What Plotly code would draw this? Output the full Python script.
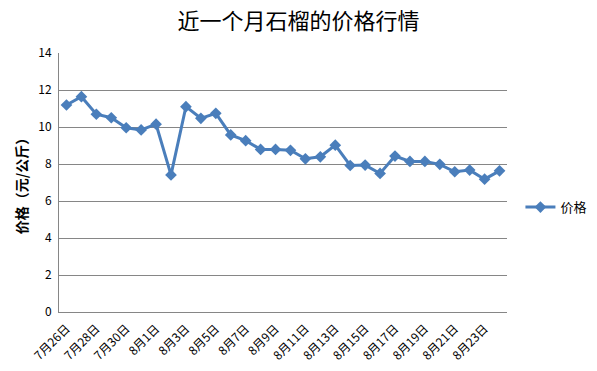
import plotly.graph_objects as go

dates = ["7月26日", "7月27日", "7月28日", "7月29日", "7月30日", "7月31日",
         "8月1日", "8月2日", "8月3日", "8月4日", "8月5日", "8月6日", "8月7日",
         "8月8日", "8月9日", "8月10日", "8月11日", "8月12日", "8月13日",
         "8月14日", "8月15日", "8月16日", "8月17日", "8月18日", "8月19日",
         "8月20日", "8月21日", "8月22日", "8月23日", "8月24日"]
prices = [11.19, 11.64, 10.69, 10.5, 9.96, 9.84, 10.15, 7.41, 11.1, 10.47,
          10.74, 9.57, 9.26, 8.79, 8.79, 8.74, 8.28, 8.39, 9.02, 7.92,
          7.94, 7.49, 8.43, 8.14, 8.14, 7.98, 7.58, 7.67, 7.18, 7.63]
y_ticks = [0, 2, 4, 6, 8, 10, 12, 14]

FONT = "Noto Sans CJK SC, Liberation Sans, sans-serif"
BLUE = "#4A7EBB"
GRID = "#868686"

fig = go.Figure()
fig.add_trace(go.Scatter(
    x=dates, y=prices, mode="lines+markers", name="价格",
    line=dict(color=BLUE, width=3),
    marker=dict(symbol="diamond", size=9, color=BLUE),
))

fig.update_layout(
    width=597, height=371,
    margin=dict(l=59, r=90, t=53, b=59, autoexpand=False),
    paper_bgcolor="white", plot_bgcolor="white",
    font=dict(family=FONT, color="black", size=12),
    title=dict(text="近一个月石榴的价格行情", x=0.5, xref="container",
               y=0.943, yref="container",
               yanchor="middle", xanchor="center",
               font=dict(size=22, family=FONT, color="black")),
    showlegend=True,
    legend=dict(x=1.03, y=0.405, xanchor="left", yanchor="middle",
                font=dict(size=13, family=FONT), bgcolor="rgba(0,0,0,0)"),
    xaxis=dict(
        type="category", tickmode="array", tickvals=dates[::2],
        tickangle=-45, showgrid=False, showline=True, linecolor=GRID,
        linewidth=1, ticks="", tickfont=dict(size=12, family=FONT),
        ticklabelstandoff=4,
        range=[-0.5, len(dates) - 0.5], automargin=False,
    ),
    yaxis=dict(
        range=[0, 14], tickmode="array", tickvals=y_ticks,
        showgrid=True, gridcolor=GRID, gridwidth=1, showline=True,
        linecolor=GRID, linewidth=1, ticks="", zeroline=False,
        tickfont=dict(size=12, family=FONT), automargin=False,
        ticklabelstandoff=4,
        title=dict(text="价格（元/公斤）", standoff=7,
                   font=dict(size=14, family=FONT, weight="bold")),
    ),
)

# remove the browser's default 8px body margin so the figure fills the window
fig.write_html("out.html",
               config={"displayModeBar": False},
               post_script="document.body.style.margin='0';")
